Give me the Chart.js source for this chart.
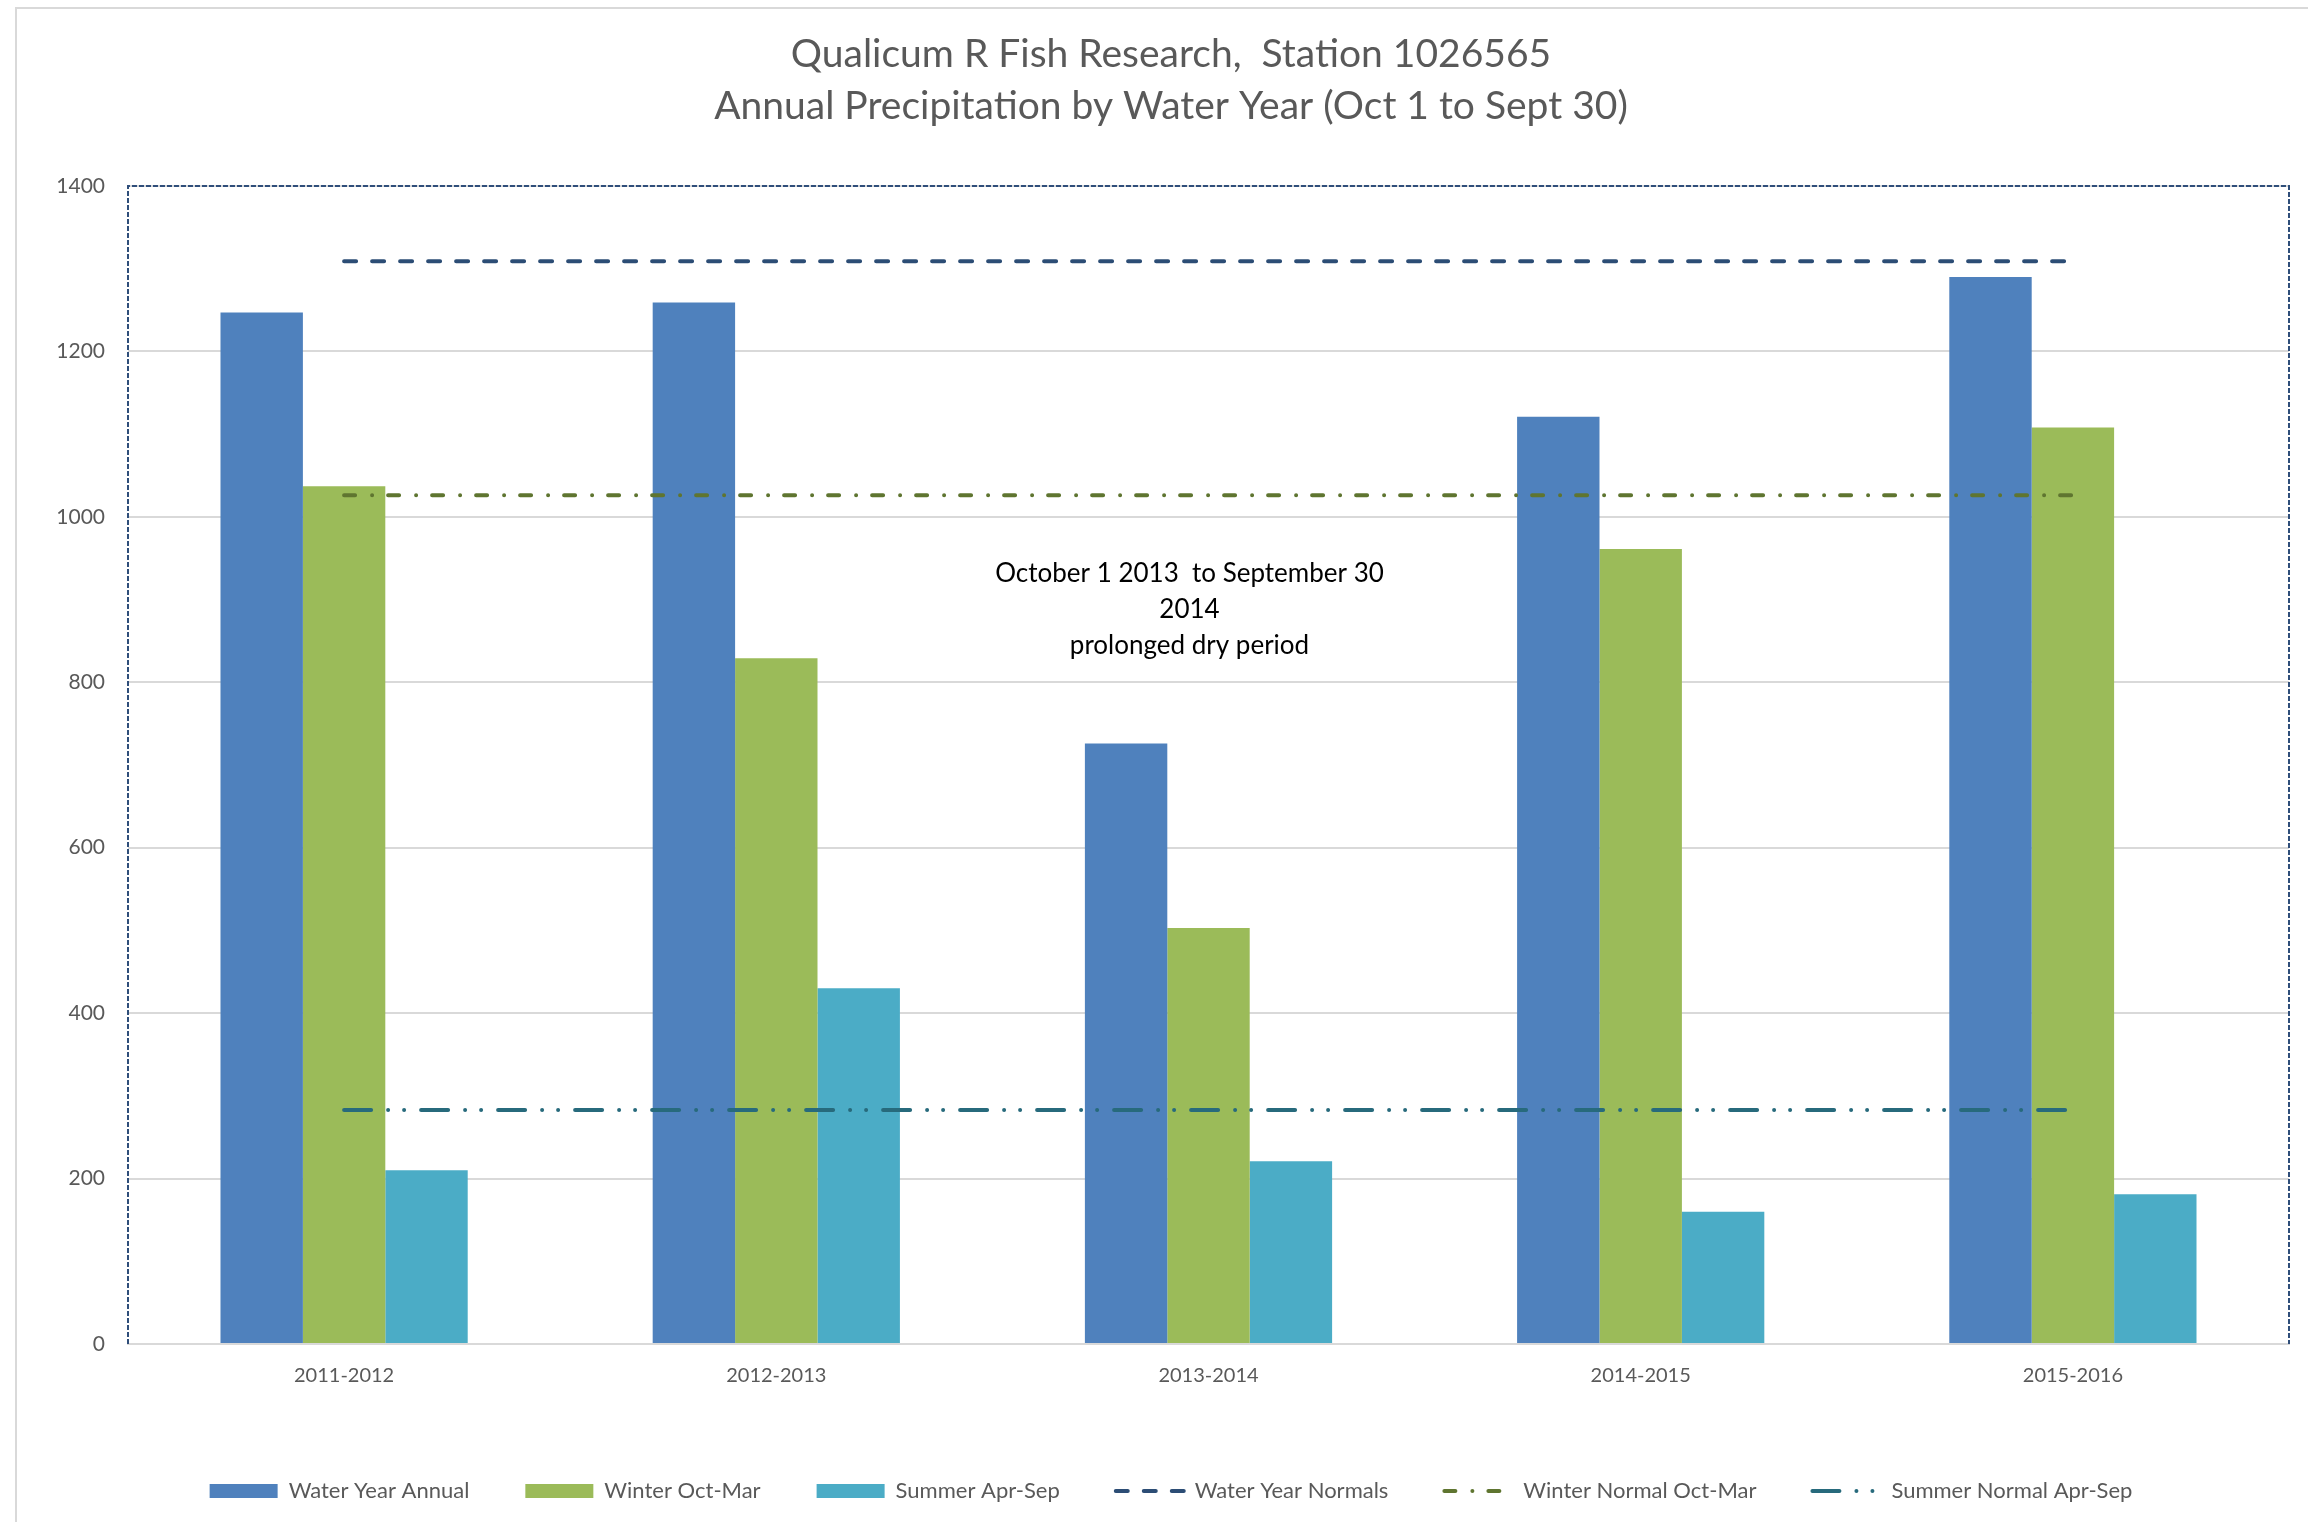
<!DOCTYPE html>
<html>
<head>
<meta charset="utf-8">
<title>Qualicum R Fish Research - Annual Precipitation</title>
<script src="https://cdn.jsdelivr.net/npm/chart.js@4.4.1/dist/chart.umd.min.js"></script>
<style>
    html, body { margin: 0; padding: 0; background: #fff; }
    #wrap { width: 2308px; height: 1522px; }
</style>
</head>
<body>
<div id="wrap"><canvas id="myChart" width="2308" height="1522"></canvas></div>
<script>
// data
var categories = ['2011-2012', '2012-2013', '2013-2014', '2014-2015', '2015-2016'];
var waterYearAnnual = [1247, 1259, 726, 1121, 1290];
var winterOctMar = [1037, 829, 503, 961, 1108];
var summerAprSep = [210, 430, 221, 160, 181];
var waterYearNormals = [1309, 1309, 1309, 1309, 1309];
var winterNormal = [1026, 1026, 1026, 1026, 1026];
var summerNormal = [283, 283, 283, 283, 283];
var yTicks = [0, 200, 400, 600, 800, 1000, 1200, 1400];
var titleLines = ['Qualicum R Fish Research,  Station 1026565', 'Annual Precipitation by Water Year (Oct 1 to Sept 30)'];
var noteLines = ['October 1 2013  to September 30', '2014', 'prolonged dry period'];

var textColor = '#595959';
var gridColor = '#D9D9D9';

// dashed plot border, outer frame and the text note
var extras = {
    id: 'extras',
    beforeDatasetsDraw: function (chart) {
        var c = chart.ctx, a = chart.chartArea;
        c.save();
        c.strokeStyle = '#2F4E7A';
        c.lineWidth = 2;
        c.setLineDash([5, 2]);
        c.beginPath();
        c.moveTo(a.left, a.bottom);
        c.lineTo(a.left, a.top);
        c.lineTo(a.right, a.top);
        c.lineTo(a.right, a.bottom);
        c.stroke();
        c.restore();
    },
    afterDraw: function (chart) {
        var c = chart.ctx;
        c.save();
        c.strokeStyle = gridColor;
        c.lineWidth = 2;
        c.beginPath();
        c.moveTo(16, chart.height);
        c.lineTo(16, 8);
        c.lineTo(chart.width, 8);
        c.stroke();

        var xs = chart.scales.x, ys = chart.scales.y;
        var cx = xs.getPixelForValue(2) - 19;
        var cy = ys.getPixelForValue(888);
        c.fillStyle = '#000';
        c.font = '26px Lato';
        c.textAlign = 'center';
        c.textBaseline = 'middle';
        noteLines.forEach(function (t, i) {
            c.fillText(t, cx, cy + (i - 1) * 36);
        });
        c.restore();
    }
};

document.addEventListener('DOMContentLoaded', function () {
    Chart.defaults.font.family = 'Lato';
    Chart.defaults.color = textColor;

    var ctx = document.getElementById('myChart').getContext('2d');
    var myChart = new Chart(ctx, {
        type: 'bar',
        data: {
            labels: categories,
            datasets: [{
                label: 'Water Year Annual',
                data: waterYearAnnual,
                backgroundColor: '#4F81BD',
                borderWidth: 0,
                order: 1
            }, {
                label: 'Winter Oct-Mar',
                data: winterOctMar,
                backgroundColor: '#9BBB59',
                borderWidth: 0,
                order: 1
            }, {
                label: 'Summer Apr-Sep',
                data: summerAprSep,
                backgroundColor: '#4BACC6',
                borderWidth: 0,
                order: 1
            }, {
                type: 'line',
                label: 'Water Year Normals',
                data: waterYearNormals,
                borderColor: '#2C4D75',
                backgroundColor: '#2C4D75',
                borderWidth: 4,
                borderDash: [12, 16],
                borderCapStyle: 'round',
                pointRadius: 0,
                fill: false,
                order: 0
            }, {
                type: 'line',
                label: 'Winter Normal Oct-Mar',
                data: winterNormal,
                borderColor: '#5F7530',
                backgroundColor: '#5F7530',
                borderWidth: 4,
                borderDash: [11, 17, 0, 16],
                borderCapStyle: 'round',
                pointRadius: 0,
                fill: false,
                order: 0
            }, {
                type: 'line',
                label: 'Summer Normal Apr-Sep',
                data: summerNormal,
                borderColor: '#276A7C',
                backgroundColor: '#276A7C',
                borderWidth: 4,
                borderDash: [27, 17, 0, 16, 0, 17],
                borderCapStyle: 'round',
                pointRadius: 0,
                fill: false,
                order: 0
            }]
        },
        options: {
            responsive: false,
            animation: false,
            datasets: {
                bar: { categoryPercentage: 0.572, barPercentage: 1 }
            },
            layout: { padding: { left: 53, right: 19, top: 0, bottom: 10 } },
            plugins: {
                title: {
                    display: true,
                    text: titleLines,
                    color: textColor,
                    font: { size: 39, weight: 'normal', lineHeight: 1.333 },
                    padding: { top: 28, bottom: 54 }
                },
                legend: {
                    position: 'bottom',
                    labels: {
                        usePointStyle: true,
                        pointStyleWidth: 68,
                        boxHeight: 14,
                        padding: 56,
                        color: textColor,
                        font: { size: 22 },
                        sort: function (a, b) { return a.datasetIndex - b.datasetIndex; },
                        generateLabels: function (chart) {
                            var items = Chart.defaults.plugins.legend.labels.generateLabels(chart);
                            items.forEach(function (item) {
                                var ds = chart.data.datasets[item.datasetIndex];
                                if (ds.type === 'line') {
                                    item.pointStyle = 'line';
                                    item.lineDash = ds.borderDash;
                                    item.lineWidth = ds.borderWidth;
                                    item.lineCap = 'round';
                                    item.strokeStyle = ds.borderColor;
                                } else {
                                    item.pointStyle = 'rect';
                                    item.lineWidth = 0;
                                    item.fillStyle = ds.backgroundColor;
                                }
                            });
                            return items;
                        }
                    }
                },
                tooltip: { enabled: false }
            },
            scales: {
                x: {
                    afterFit: function (scale) { scale.height = 80; },
                    grid: { display: false, drawTicks: false },
                    border: { display: true, color: gridColor, width: 2 },
                    ticks: { color: textColor, font: { size: 20 }, padding: 20 }
                },
                y: {
                    min: 0,
                    max: 1400,
                    afterFit: function (scale) { scale.width = 75; },
                    afterBuildTicks: function (scale) {
                        scale.ticks = yTicks.map(function (v) { return { value: v }; });
                    },
                    grid: { color: gridColor, lineWidth: 2, drawTicks: false },
                    border: { display: false },
                    ticks: {
                        color: textColor,
                        font: { size: 21 },
                        padding: 23,
                        callback: function (value) { return String(value); }
                    }
                }
            }
        },
        plugins: [extras]
    });
});
</script>
</body>
</html>
